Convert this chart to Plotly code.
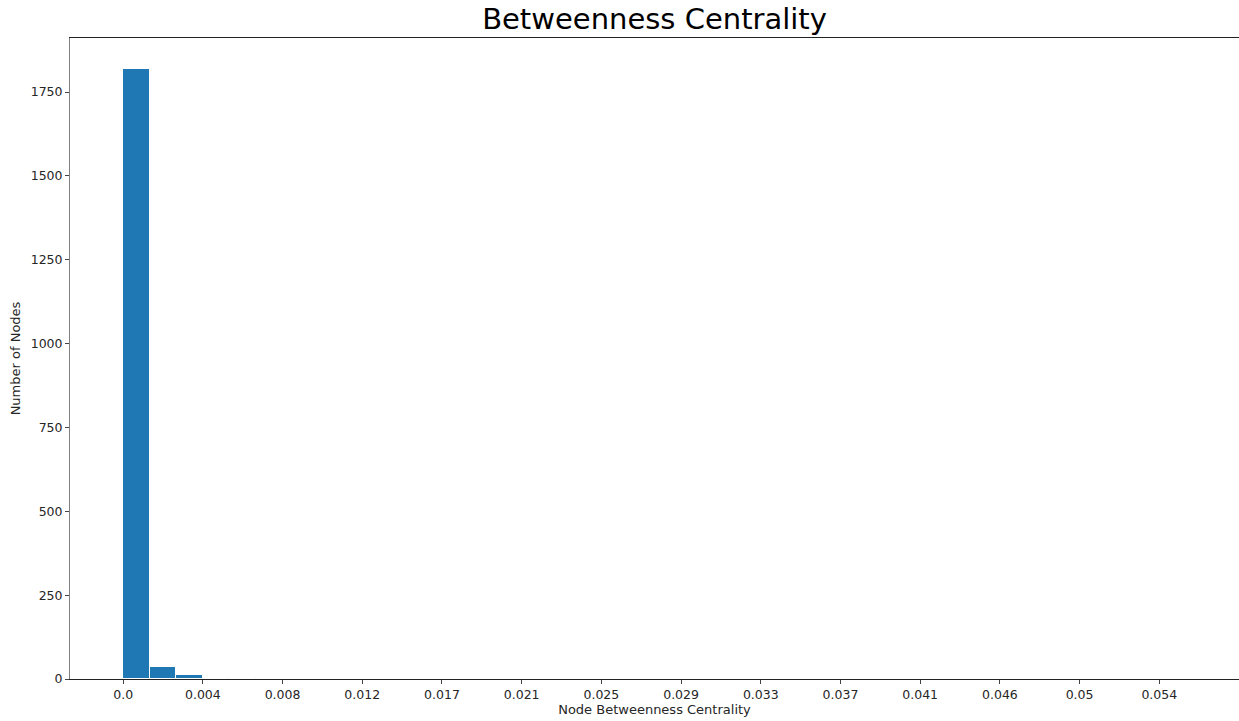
import numpy as np
import plotly.graph_objects as go

# Histogram data (40 equal bins from 0 to max centrality)
max_value = 0.0555
counts = [1820, 37, 12, 3, 2, 1, 1, 0, 1, 0,
          1, 0, 0, 1, 0, 0, 0, 0, 0, 0,
          0, 0, 0, 0, 0, 0, 0, 0, 0, 0,
          0, 0, 0, 0, 0, 0, 0, 0, 0, 1]
tick_labels = ["0.0", "0.004", "0.008", "0.012", "0.017", "0.021", "0.025",
               "0.029", "0.033", "0.037", "0.041", "0.046", "0.05", "0.054"]
y_ticks = [0, 250, 500, 750, 1000, 1250, 1500, 1750]

nbins = len(counts)
edges = np.linspace(0, max_value, nbins + 1)
centers = (edges[:-1] + edges[1:]) / 2
width = edges[1] - edges[0]
tick_vals = edges[::3][:len(tick_labels)]

fig = go.Figure(go.Bar(
    x=centers, y=counts, width=width,
    marker=dict(color="#1f77b4", line=dict(color="white", width=1)),
))

W, H = 1239, 721
fig.update_layout(
    width=W, height=H,
    margin=dict(l=70, r=0, t=38, b=42),
    plot_bgcolor="white", paper_bgcolor="white",
    font=dict(family="DejaVu Sans", size=12, color="#262626"),
    title=dict(text="Betweenness Centrality", x=(70 + W) / 2 / W, xanchor="center",
               y=1 - 19 / H, yanchor="middle",
               font=dict(family="DejaVu Sans", size=29, color="black")),
    bargap=0, showlegend=False,
)
fig.update_xaxes(
    range=[-0.05 * max_value, 1.05 * max_value],
    tickvals=tick_vals, ticktext=tick_labels,
    showgrid=False, zeroline=False,
    showline=True, linecolor="#222", linewidth=1, mirror=True,
    ticks="outside", ticklen=4, tickcolor="#444",
    tickfont=dict(size=12.5, color="#262626"),
    title=dict(text="Node Betweenness Centrality", font=dict(size=13, color="#262626"), standoff=3),
)
fig.update_yaxes(
    range=[0, 1.05 * max(counts)],
    tickvals=y_ticks,
    showgrid=False, zeroline=False,
    showline=True, linecolor="#808080", linewidth=1,
    ticks="outside", ticklen=4, tickcolor="#444",
    tickfont=dict(size=12.5, color="#262626"),
    title=dict(text="Number of Nodes", font=dict(size=13, color="#262626"), standoff=7),
)

fig.write_html("out.html", config={"displayModeBar": False},
               post_script="document.body.style.margin='0';document.body.style.overflow='hidden';")
